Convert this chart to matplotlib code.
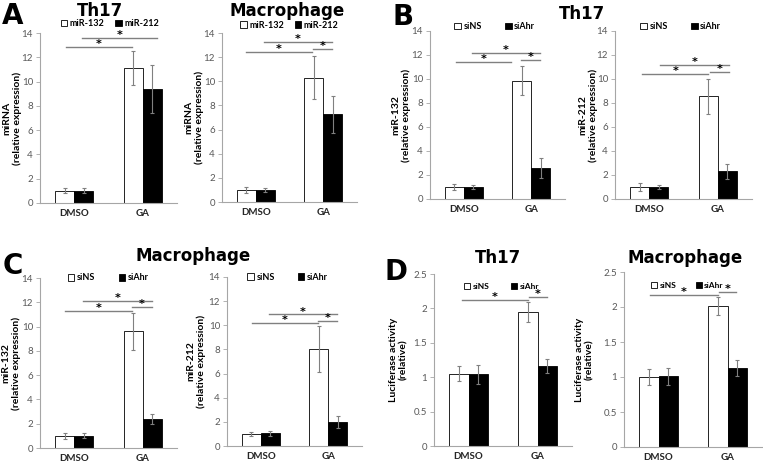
import matplotlib.pyplot as plt
import numpy as np

# --- data ---
groups = ['DMSO', 'GA']

# panel A
a_th17_132 = [1.0, 11.1]
a_th17_132_err = [0.2, 1.4]
a_th17_212 = [1.0, 9.4]
a_th17_212_err = [0.2, 2.0]
a_mac_132 = [1.0, 10.3]
a_mac_132_err = [0.25, 1.8]
a_mac_212 = [1.0, 7.25]
a_mac_212_err = [0.15, 1.5]

# panel B (Th17)
b_132_sins = [1.0, 9.85]
b_132_sins_err = [0.25, 1.2]
b_132_siahr = [1.0, 2.6]
b_132_siahr_err = [0.2, 0.85]
b_212_sins = [1.0, 8.55]
b_212_sins_err = [0.3, 1.45]
b_212_siahr = [1.0, 2.3]
b_212_siahr_err = [0.2, 0.65]

# panel C (Macrophage)
c_132_sins = [1.0, 9.6]
c_132_sins_err = [0.25, 1.5]
c_132_siahr = [1.0, 2.4]
c_132_siahr_err = [0.2, 0.4]
c_212_sins = [1.0, 8.0]
c_212_sins_err = [0.2, 1.9]
c_212_siahr = [1.05, 2.0]
c_212_siahr_err = [0.2, 0.5]

# panel D (luciferase)
d_th17_sins = [1.05, 1.95]
d_th17_sins_err = [0.11, 0.15]
d_th17_siahr = [1.04, 1.16]
d_th17_siahr_err = [0.14, 0.1]
d_mac_sins = [1.0, 2.01]
d_mac_sins_err = [0.11, 0.13]
d_mac_siahr = [1.01, 1.13]
d_mac_siahr_err = [0.12, 0.12]

# significance brackets: (x start, x end, height)
sig_a_th17 = [(-0.12, 0.84, 12.85), (0.12, 1.21, 13.6)]
sig_a_mac = [(-0.15, 0.84, 12.4), (0.12, 1.13, 13.25), (0.85, 1.13, 12.7)]
sig_b_132 = [(-0.12, 0.7, 11.4), (0.12, 1.13, 12.2), (0.85, 1.13, 11.6)]
sig_b_212 = [(-0.1, 0.86, 10.4), (0.15, 1.17, 11.2), (0.88, 1.17, 10.6)]
sig_c_132 = [(-0.13, 0.84, 11.3), (0.13, 1.13, 12.1), (0.85, 1.13, 11.6)]
sig_c_212 = [(-0.13, 0.85, 10.2), (0.12, 1.13, 10.9), (0.85, 1.13, 10.35)]
sig_d_th17 = [(-0.1, 0.86, 2.12), (0.87, 1.14, 2.17)]
sig_d_mac = [(-0.12, 0.86, 2.17), (0.87, 1.13, 2.21)]

W, H = 763, 463
GRAY = '#808080'
AXC = '#a6a6a6'
TXT = '#595959'
FONT = 'Lato'


def px_axes(fig, x0, x1, ytop, ybot):
    return fig.add_axes([x0 / W, 1 - ybot / H, (x1 - x0) / W, (ybot - ytop) / H])


def panel(ax, v1, e1, v2, e2, labels, sigs, ylabel, ymax, ystep,
          leg_x, leg_y, leg_sp, lab_x, leg_fs=6.5):
    x = np.arange(len(groups))
    bw = 0.28
    ax.bar(x - bw / 2, v1, bw, color='white', edgecolor='black', lw=0.6, label=labels[0], zorder=2)
    ax.bar(x + bw / 2, v2, bw, color='black', edgecolor='black', lw=0.6, label=labels[1], zorder=2)
    ax.errorbar(x - bw / 2, v1, yerr=e1, fmt='none', ecolor=GRAY, elinewidth=0.8, capsize=1.5, capthick=0.8, zorder=3)
    ax.errorbar(x + bw / 2, v2, yerr=e2, fmt='none', ecolor=GRAY, elinewidth=0.8, capsize=1.5, capthick=0.8, zorder=3)
    for s0, s1, h in sigs:
        ax.plot([s0, s1], [h, h], color=GRAY, lw=1.0, zorder=3)
        ax.annotate('*', ((s0 + s1) / 2, h), xytext=(0, -1.5), textcoords='offset points',
                    ha='center', va='bottom', fontsize=8, fontweight='bold', family='DejaVu Sans')
    ax.set_xlim(-0.5, 1.5)
    ax.set_ylim(0, ymax)
    ax.set_yticks(np.arange(0, ymax + ystep / 2, ystep))
    ax.yaxis.set_major_formatter(plt.FuncFormatter(lambda v, p: '{:g}'.format(v)))
    ax.set_xticks(x)
    ax.set_xticklabels(groups, fontsize=7, fontweight='bold', color='#262626', family=FONT)
    ax.tick_params(axis='x', length=0, pad=4)
    ax.tick_params(axis='y', length=3, width=0.6, color=AXC, labelsize=7, labelcolor=TXT, pad=2)
    for t in ax.get_yticklabels():
        t.set_family(FONT)
    for sp in ['top', 'right']:
        ax.spines[sp].set_visible(False)
    for sp in ['left', 'bottom']:
        ax.spines[sp].set_color(AXC)
        ax.spines[sp].set_linewidth(0.8)
    ax.set_ylabel(ylabel, fontsize=7.5, fontweight='bold', family=FONT, linespacing=1.1)
    ax.yaxis.set_label_coords(lab_x, 0.5)
    ax.legend(loc='center', bbox_to_anchor=(leg_x, leg_y), ncol=2, frameon=False,
              handlelength=0.7, handleheight=0.7, handletextpad=0.3,
              columnspacing=leg_sp, borderpad=0,
              prop={'family': FONT, 'weight': 'bold', 'size': leg_fs})


fig = plt.figure(figsize=(W / 100, H / 100), dpi=100)

mir_lab = ['miR-132', 'miR-212']
si_lab = ['siNS', 'siAhr']

ax = px_axes(fig, 40, 177, 33, 203)
panel(ax, a_th17_132, a_th17_132_err, a_th17_212, a_th17_212_err, mir_lab, sig_a_th17,
      'miRNA\n(relative expression)', 14, 2, 0.51, 1.053, 1.2, (22 - 40) / 137)
ax = px_axes(fig, 222, 357, 33, 202)
panel(ax, a_mac_132, a_mac_132_err, a_mac_212, a_mac_212_err, mir_lab, sig_a_mac,
      'miRNA\n(relative expression)', 14, 2, 0.50, 1.047, 1.2, (204 - 222) / 135)
ax = px_axes(fig, 430, 565, 31, 199)
panel(ax, b_132_sins, b_132_sins_err, b_132_siahr, b_132_siahr_err, si_lab, sig_b_132,
      'miR-132\n(relative expression)', 14, 2, 0.48, 1.024, 2.6, (411 - 430) / 135)
ax = px_axes(fig, 615, 752, 31, 199)
panel(ax, b_212_sins, b_212_sins_err, b_212_siahr, b_212_siahr_err, si_lab, sig_b_212,
      'miR-212\n(relative expression)', 14, 2, 0.48, 1.024, 2.6, (598 - 615) / 137)
ax = px_axes(fig, 40, 177, 278, 448)
panel(ax, c_132_sins, c_132_sins_err, c_132_siahr, c_132_siahr_err, si_lab, sig_c_132,
      'miR-132\n(relative expression)', 14, 2, 0.50, 1.0, 2.6, (21 - 40) / 137)
ax = px_axes(fig, 227, 362, 277, 446)
panel(ax, c_212_sins, c_212_sins_err, c_212_siahr, c_212_siahr_err, si_lab, sig_c_212,
      'miR-212\n(relative expression)', 14, 2, 0.45, 1.0, 2.6, (206 - 227) / 135)
ax = px_axes(fig, 434, 572, 274, 446)
panel(ax, d_th17_sins, d_th17_sins_err, d_th17_siahr, d_th17_siahr_err, si_lab, sig_d_th17,
      'Luciferase activity\n(relative)', 2.5, 0.5, 0.49, 0.93, 2.6, (408 - 434) / 138, 6)
ax = px_axes(fig, 624, 762, 272, 447)
panel(ax, d_mac_sins, d_mac_sins_err, d_mac_siahr, d_mac_siahr_err, si_lab, sig_d_mac,
      'Luciferase activity\n(relative)', 2.5, 0.5, 0.46, 0.925, 2.3, (594 - 624) / 138, 6)

# titles and panel letters
titles = [('Th17', 100, 11), ('Macrophage', 287, 11), ('Th17', 582, 14),
          ('Macrophage', 193, 256), ('Th17', 498, 258), ('Macrophage', 685, 258)]
for t, px, py in titles:
    fig.text(px / W, 1 - py / H, t, ha='center', va='center', fontsize=12,
             fontweight='heavy', family='DejaVu Sans')
letters = [('A', 13, 16), ('B', 403, 17), ('C', 13, 266), ('D', 396, 272)]
for t, px, py in letters:
    fig.text(px / W, 1 - py / H, t, ha='center', va='center', fontsize=20,
             fontweight='heavy', family='DejaVu Sans')

fig.savefig('out.png', dpi=100)
